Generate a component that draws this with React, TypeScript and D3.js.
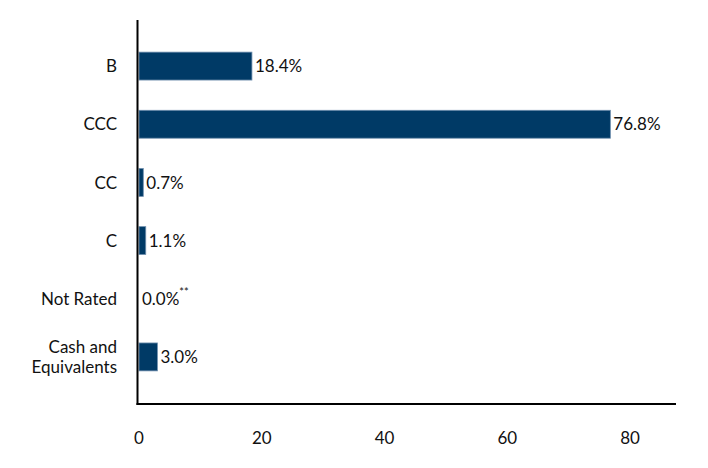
import React from "react";
import * as d3 from "d3";

const categories = ["B", "CCC", "CC", "C", "Not Rated", "Cash and Equivalents"];
const values = [18.4, 76.8, 0.7, 1.1, 0.0, 3.0];
const valueLabels = ["18.4%", "76.8%", "0.7%", "1.1%", "0.0%", "3.0%"];
const footnotes = ["", "", "", "", "**", ""];
const xTicks = [0, 20, 40, 60, 80];

const W = 708;
const H = 468;
const FONT = "Lato, 'Open Sans', sans-serif";

export default function App() {
  const x = d3.scaleLinear().domain([0, 80]).range([139, 630]);
  const y = d3
    .scaleBand<string>()
    .domain(categories)
    .range([37, 386])
    .paddingInner(0.52)
    .paddingOuter(0.26);

  const bw = y.bandwidth();

  return (
    <svg
      width={W}
      height={H}
      style={{ position: "absolute", left: 0, top: 0, background: "#fff" }}
      fontFamily={FONT}
    >
      {categories.map((c, i) => {
        const yc = (y(c) as number) + bw / 2;
        const x1 = x(values[i]);
        const lines = c === "Cash and Equivalents" ? ["Cash and", "Equivalents"] : [c];
        return (
          <g key={c}>
            {values[i] > 0 && (
              <rect
                x={x(0)}
                y={y(c)}
                width={x1 - x(0)}
                height={bw}
                fill="#003a66"
                stroke="#6f8fae"
                strokeWidth={0.8}
              />
            )}
            <text x={x1 + 3} y={yc} dy="0.36em" fontSize={17} fill="#111">
              {valueLabels[i]}
              {footnotes[i] && (
                <tspan fontSize={11} dy="-0.85em">
                  {footnotes[i]}
                </tspan>
              )}
            </text>
            {lines.map((l, j) => (
              <text
                key={j}
                x={117}
                y={yc + (j - (lines.length - 1) / 2) * 19.5}
                dy="0.36em"
                textAnchor="end"
                fontSize={17}
                fill="#111"
              >
                {l}
              </text>
            ))}
          </g>
        );
      })}
      <line x1={137.5} x2={137.5} y1={20} y2={405} stroke="#000" strokeWidth={2} />
      <line x1={136.5} x2={676} y1={404} y2={404} stroke="#000" strokeWidth={2} />
      {xTicks.map((t) => (
        <text key={t} x={x(t)} y={438} dy="0.36em" textAnchor="middle" fontSize={17} fill="#111">
          {t}
        </text>
      ))}
    </svg>
  );
}
